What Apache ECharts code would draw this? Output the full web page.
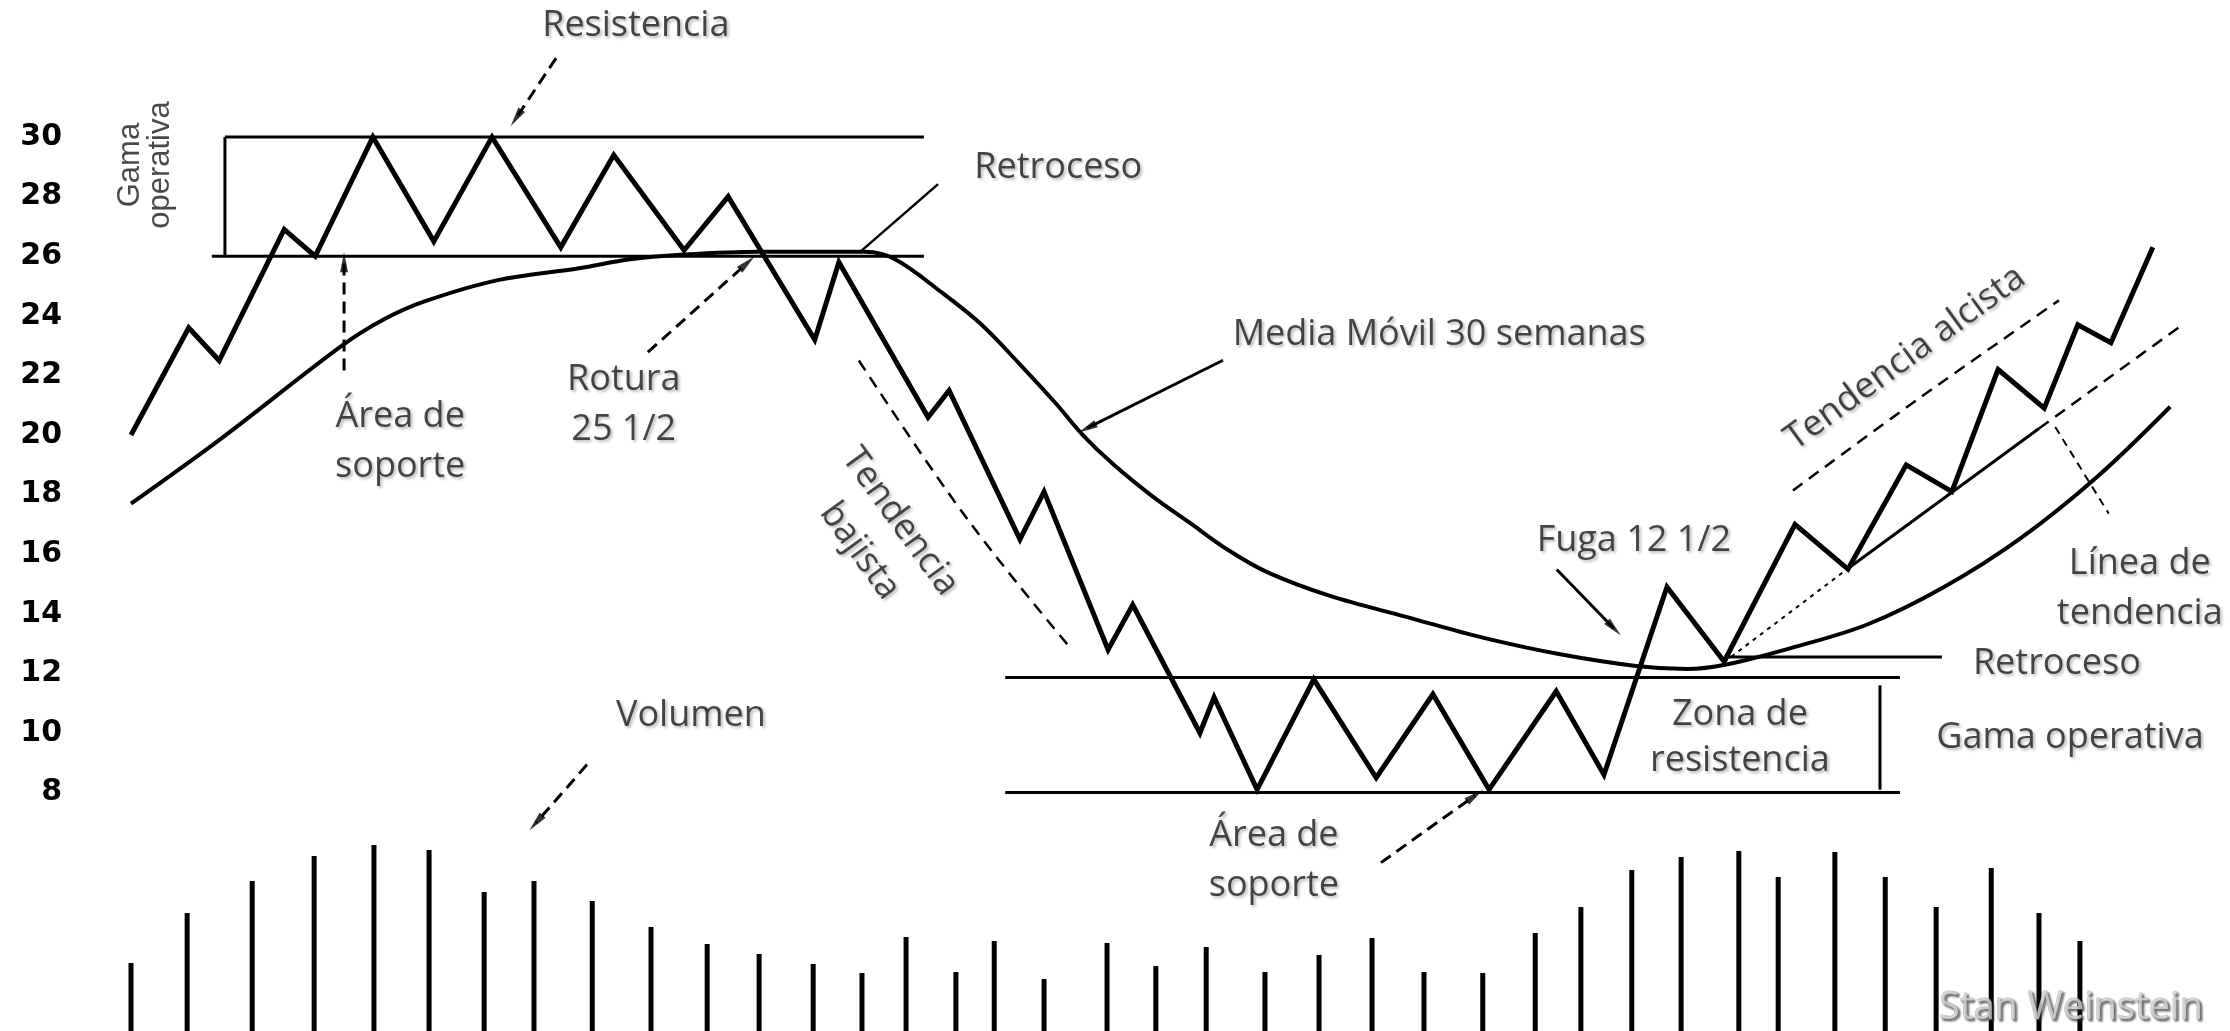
<!DOCTYPE html>
<html>
<head>
<meta charset="utf-8">
<script src="https://cdn.jsdelivr.net/npm/echarts@6/dist/echarts.min.js"></script>
<style>
  html, body { margin: 0; padding: 0; background: #fff; }
  #chart { width: 2230px; height: 1031px; }
</style>
</head>
<body>
<div id="chart"></div>
<script>
// eje x en semanas, eje y en precio
const priceTicks = [8, 10, 12, 14, 16, 18, 20, 22, 24, 26, 28, 30];

const priceWeeks = [0, 1.10, 1.68, 2.92, 3.51, 4.61, 5.77, 6.88, 8.19, 9.20, 10.54, 11.38, 13.03, 13.49,
  15.19, 15.59, 16.94, 17.40, 18.62, 19.09, 20.37, 20.64, 21.46, 22.54, 23.73, 24.81, 25.88, 27.16,
  28.07, 29.27, 30.36, 31.71, 32.72, 33.83, 34.70, 35.58, 36.46, 37.10, 37.73, 38.53];
const priceValues = [20.0, 23.6, 22.5, 26.9, 26.0, 30.0, 26.5, 30.0, 26.3, 29.4, 26.2, 28.0, 23.2, 25.8,
  20.6, 21.5, 16.5, 18.1, 12.8, 14.3, 10.0, 11.2, 8.1, 11.8, 8.5, 11.3, 8.1, 11.4,
  8.6, 14.9, 12.4, 17.0, 15.5, 19.0, 18.1, 22.2, 20.9, 23.7, 23.1, 26.3];

// media movil 30 semanas
const maWeeks = [0, 1.73, 4.02, 4.84, 5.62, 6.99, 8.54, 9.51, 10.48, 11.95, 13.99, 14.56, 15.44, 16.18,
  16.90, 17.63, 18.14, 18.73, 19.46, 20.18, 20.90, 21.65, 22.85, 24.30, 25.76, 27.21, 28.68, 29.65,
  30.40, 31.63, 33.10, 34.55, 36.02, 37.47, 38.86];
const maValues = [17.7, 19.9, 23.0, 23.9, 24.5, 25.2, 25.6, 25.9, 26.05, 26.15, 26.15, 25.9, 24.8, 23.75,
  22.45, 21.05, 20.0, 19.0, 17.95, 17.05, 16.15, 15.4, 14.6, 13.9, 13.2, 12.65, 12.25, 12.15,
  12.3, 12.85, 13.65, 14.9, 16.55, 18.6, 20.95];

// volumen
const volWeeks = [0, 1.07, 2.31, 3.49, 4.63, 5.68, 6.73, 7.68, 8.79, 9.91, 10.98, 11.97, 13.00, 13.93,
  14.77, 15.72, 16.45, 17.40, 18.60, 19.53, 20.49, 21.61, 22.64, 23.65, 24.64, 25.76, 26.76, 27.63,
  28.60, 29.54, 30.64, 31.39, 32.47, 33.43, 34.40, 35.45, 36.36, 37.14];
const volValues = [68, 118, 150, 175, 186, 181, 139, 150, 130, 104, 87, 77, 67, 58,
  94, 59, 90, 52, 88, 65, 84, 59, 76, 93, 59, 58, 98, 124,
  161, 174, 180, 154, 179, 154, 124, 163, 118, 90];

// gamas operativas y retroceso: [x1, y1, x2, y2]
const rangeLines = [
  [1.54, 26, 15.11, 26],
  [1.79, 30, 15.11, 30],
  [1.79, 26, 1.79, 30],
  [16.66, 11.86, 33.71, 11.86],
  [16.66, 8, 33.71, 8],
  [33.33, 11.6, 33.33, 8.1],
  [30.36, 12.55, 34.51, 12.55]
];

// linea de tendencia (tramo punteado, solido, discontinuo)
const trendDotted = [[30.36, 12.38], [32.72, 15.52]];
const trendSolid = [[32.72, 15.52], [36.36, 20.22]];
const trendDashed = [[36.36, 20.22], [39.09, 23.7]];
const upTrend = [[31.67, 18.14], [34.05, 21.2], [36.74, 24.52]];
const downTrend = [[13.87, 22.5], [15.44, 18.4], [16.54, 15.8], [17.86, 12.94]];

// flechas: [desde, hasta]
const dashedArrows = [
  [[8.10, 32.65], [7.34, 30.64]],
  [[4.06, 22.17], [4.06, 25.80]],
  [[9.85, 22.78], [11.74, 25.77]],
  [[8.69, 8.94], [7.72, 6.99]],
  [[23.82, 5.65], [25.61, 7.90]]
];
const solidArrows = [
  [[20.81, 22.51], [18.22, 20.23]],
  [[27.17, 15.49], [28.26, 13.51]]
];
const plainLines = [
  [[15.38, 28.42], [13.89, 26.14]]
];
const gapMarker = [[36.67, 20.27], [37.69, 17.36]];

// textos
const noteTexts = ['Resistencia', 'Gama\noperativa', 'Retroceso', 'Rotura\n25 1/2', 'Área de\nsoporte',
  'Media Móvil 30 semanas', 'Tendencia\nbajista', 'Fuga 12 1/2', 'Tendencia alcista', 'Línea de\ntendencia',
  'Retroceso', 'Zona de\nresistencia', 'Gama operativa', 'Volumen', 'Área de\nsoporte'];
const noteX = [9.62, 0.27, 17.67, 9.39, 5.13, 24.93, 14.27, 28.64, 33.81, 38.28, 36.70, 30.66, 36.95, 10.67, 21.78];
const noteY = [33.73, 29.06, 28.96, 21.0, 19.79, 23.38, 16.6, 16.46, 22.58, 14.85, 12.33, 9.85, 9.85, 10.58, 5.71];
const credit = ['Stan Weinstein', 36.97, 0.76];

const pair = (xs, ys) => xs.map((x, i) => [x, ys[i]]);
const black = '#000';

const lineSeries = (data, style, extra) => Object.assign({
  type: 'line',
  xAxisIndex: 0,
  yAxisIndex: 0,
  data: data,
  symbol: 'none',
  clip: false,
  silent: true,
  lineStyle: Object.assign({ color: black, width: 3 }, style)
}, extra || {});

const shadow = {
  textShadowColor: 'rgba(0,0,0,0.35)',
  textShadowBlur: 3,
  textShadowOffsetX: 2,
  textShadowOffsetY: 2
};
const noteRotate = { 1: 90, 6: -54, 8: 36 };
const noteLine = { 1: 30, 11: 46 };

const noteData = noteTexts.map((t, i) => {
  const left = i === 1;
  return {
    name: t,
    value: [noteX[i], noteY[i]],
    label: Object.assign({
      rotate: noteRotate[i] || 0,
      fontFamily: left ? 'Liberation Sans' : 'Open Sans',
      fontSize: left ? 31 : 36,
      lineHeight: noteLine[i] || 50
    }, left ? {} : shadow)
  };
});
noteData.push({
  name: credit[0],
  value: [credit[1], credit[2]],
  label: {
    fontFamily: 'Open Sans',
    fontSize: 38,
    color: '#d6d6d6',
    textBorderColor: '#b0b0b0',
    textBorderWidth: 1,
    textShadowColor: 'rgba(40,40,40,0.75)',
    textShadowBlur: 2,
    textShadowOffsetX: 2,
    textShadowOffsetY: 2
  }
});

const allArrows = dashedArrows.map(a => ({ a: a, style: { width: 3, type: [12, 7] } }))
  .concat(solidArrows.map(a => ({ a: a, style: { width: 3 } })));

const chart = echarts.init(document.getElementById('chart'));
chart.setOption({
  backgroundColor: '#fff',
  animation: false,
  grid: [
    // precio ocupa todo el alto: 30 cae en y=137 y 8 en y=792
    { left: 131, right: 0, top: 0, bottom: 0 },
    { left: 131, right: 0, top: 831, bottom: 0 }
  ],
  xAxis: [
    { type: 'value', gridIndex: 0, min: 0, max: 40, show: false },
    { type: 'value', gridIndex: 1, min: 0, max: 40, show: false }
  ],
  yAxis: [
    {
      type: 'value', gridIndex: 0,
      min: 0, max: 34.6, interval: 2,
      axisLine: { show: false }, axisTick: { show: false }, splitLine: { show: false },
      axisLabel: {
        margin: 69, color: black, fontFamily: 'DejaVu Sans', fontWeight: 'bold', fontSize: 30,
        showMaxLabel: false,
        formatter: v => priceTicks.indexOf(v) >= 0 ? String(v) : ''
      }
    },
    { type: 'value', gridIndex: 1, min: 0, max: 200, show: false }
  ],
  series: [
    ...rangeLines.map(s => lineSeries([[s[0], s[1]], [s[2], s[3]]], { width: 3 })),
    lineSeries(pair(maWeeks, maValues), { width: 4 }, { smooth: 0.35 }),
    lineSeries(pair(priceWeeks, priceValues), { width: 5, join: 'miter' }),
    lineSeries(trendDotted, { width: 2, type: [4, 5] }),
    lineSeries(trendSolid, { width: 3 }),
    lineSeries(trendDashed, { width: 2.5, type: [12, 8] }),
    lineSeries(upTrend, { width: 2.5, type: [12, 8] }, { smooth: 0.3 }),
    lineSeries(downTrend, { width: 2.5, type: [12, 8] }, { smooth: 0.4 }),
    ...allArrows.map(o => lineSeries(o.a, o.style)),
    ...plainLines.map(a => lineSeries(a, { width: 2.5 })),
    lineSeries(gapMarker, { width: 2, type: [8, 6] }),
    {
      type: 'bar',
      xAxisIndex: 1,
      yAxisIndex: 1,
      data: pair(volWeeks, volValues),
      barWidth: 5,
      silent: true,
      itemStyle: { color: black }
    },
    {
      id: 'heads',
      type: 'scatter',
      xAxisIndex: 0,
      yAxisIndex: 0,
      clip: false,
      silent: true,
      symbol: 'triangle',
      symbolSize: [8, 20],
      itemStyle: { color: black },
      data: []
    },
    {
      type: 'scatter',
      xAxisIndex: 0,
      yAxisIndex: 0,
      clip: false,
      silent: true,
      symbolSize: 1,
      z: 5,
      itemStyle: { color: 'rgba(0,0,0,0)' },
      data: noteData,
      label: {
        show: true,
        position: 'inside',
        formatter: '{b}',
        color: '#1a1a1a',
        align: 'center',
        verticalAlign: 'middle'
      }
    }
  ]
});

// puntas de flecha orientadas segun la direccion en pantalla
const heads = allArrows.map(o => {
  const p0 = chart.convertToPixel({ gridIndex: 0 }, o.a[0]);
  const p1 = chart.convertToPixel({ gridIndex: 0 }, o.a[1]);
  const ang = Math.atan2(-(p1[0] - p0[0]), -(p1[1] - p0[1])) * 180 / Math.PI;
  return { value: o.a[1], symbolRotate: ang };
});
chart.setOption({ series: [{ id: 'heads', data: heads }] });
</script>
</body>
</html>
